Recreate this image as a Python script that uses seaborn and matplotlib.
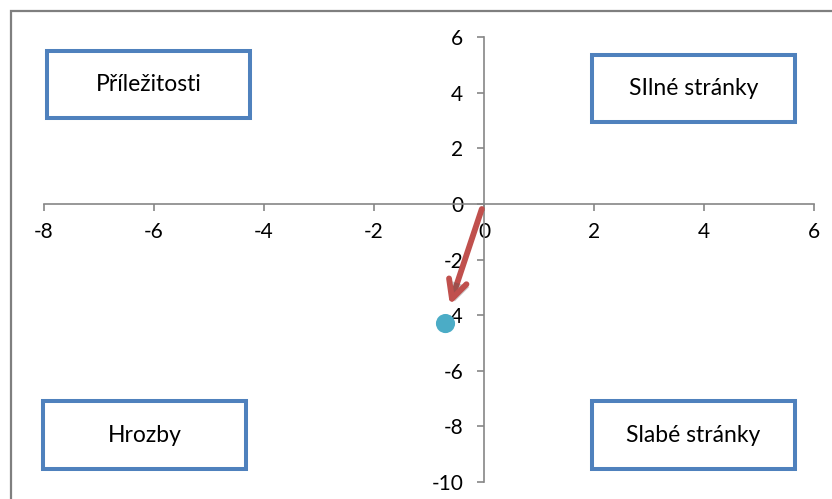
import matplotlib
matplotlib.use("Agg")
import matplotlib.pyplot as plt
import matplotlib.patheffects as pe
from matplotlib.patches import Rectangle
import seaborn as sns
import pandas as pd

# ---- data ----
point_x = [-0.7]
point_y = [-4.3]
arrow_start = [-0.04, -0.18]
arrow_end = [-0.62, -3.63]
x_ticks = [-8, -6, -4, -2, 0, 2, 4, 6]
y_ticks = [-10, -8, -6, -4, -2, 0, 2, 4, 6]
box_labels = ["Příležitosti", "SIlné stránky", "Hrozby", "Slabé stránky"]

sns.set_theme(style="white")
plt.rcParams['font.family'] = ['Lato', 'DejaVu Sans']

W, H = 832, 499
fig = plt.figure(figsize=(W / 100, H / 100), dpi=100)
ax = fig.add_axes([0, 0, 1, 1])
ax.set_facecolor("none")

# pixel mapping: x=0 at 484 (55 px/unit), y=0 at 204 (27.8 px/unit)
x0, sx = 484, 55.0
y0, sy = 204, 27.8
ax.set_xlim((0 - x0) / sx, (W - x0) / sx)
ax.set_ylim((y0 - H) / sy, (y0 - 0) / sy)

df = pd.DataFrame({"x": point_x, "y": point_y})
sns.scatterplot(data=df, x="x", y="y", ax=ax, s=190, color="#4BACC6",
                edgecolor="none", zorder=5)

axis_col = "#868686"
for side in ["top", "right"]:
    ax.spines[side].set_visible(False)
ax.spines["left"].set_position(("data", 0))
ax.spines["bottom"].set_position(("data", 0))
ax.spines["left"].set_bounds(min(y_ticks), max(y_ticks))
ax.spines["bottom"].set_bounds(min(x_ticks), max(x_ticks))
for side in ["left", "bottom"]:
    ax.spines[side].set_color(axis_col)
    ax.spines[side].set_linewidth(1.2)
ax.set_xticks(x_ticks)
ax.set_yticks(y_ticks)
ax.set_xticklabels([str(v) for v in x_ticks])
ax.set_yticklabels([str(v) for v in y_ticks])
ax.tick_params(axis="both", direction="out", length=5, width=1.2,
               color=axis_col, labelsize=15, labelcolor="black")
ax.tick_params(axis="x", pad=8, bottom=True)
ax.tick_params(axis="y", pad=10, left=True)
ax.set_xlabel("")
ax.set_ylabel("")

# arrow
ax.annotate("", xy=tuple(arrow_end), xytext=tuple(arrow_start),
            arrowprops=dict(arrowstyle="->,head_length=1.1,head_width=0.55",
                            color="#C0504D", lw=4.2, shrinkA=0, shrinkB=0,
                            path_effects=[pe.withSimplePatchShadow(offset=(2, -2), alpha=0.3)]),
            zorder=6)

# outer frame
def fx(px):
    return px / W

def fy(py):
    return 1 - py / H

frame = Rectangle((fx(10.5), fy(H + 20)), fx(W + 20) - fx(10.5), fy(11.5) - fy(H + 20),
                  transform=fig.transFigure, fill=False, edgecolor="#7F7F7F", lw=1.6)
fig.patches.append(frame)

# boxes: (left, top, right, bottom) in pixels
boxes = [(47, 51, 250, 118), (592, 55, 795, 122), (43, 401, 246, 469), (592, 401, 795, 469)]
for (l, t, r, b), lab in zip(boxes, box_labels):
    rect = Rectangle((fx(l), fy(b)), fx(r) - fx(l), fy(t) - fy(b), transform=fig.transFigure,
                     facecolor="white", edgecolor="#4F81BD", lw=2.9, zorder=3)
    fig.patches.append(rect)
    fig.text(fx((l + r) / 2), fy((t + b) / 2), lab, ha="center", va="center",
             fontsize=16.5, color="black", zorder=4)

fig.savefig("out.png", dpi=100)
